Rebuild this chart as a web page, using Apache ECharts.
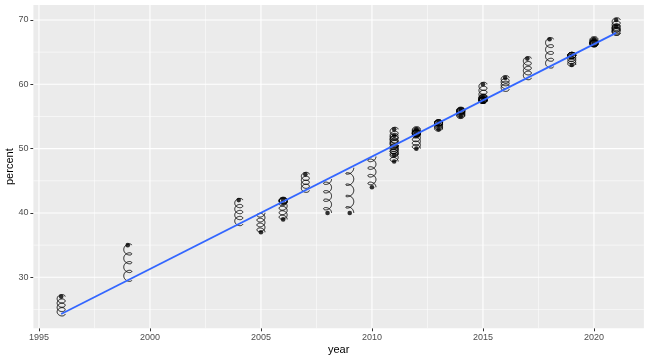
<!DOCTYPE html>
<html>
<head>
<meta charset="utf-8">
<script src="https://cdn.jsdelivr.net/npm/echarts@6/dist/echarts.min.js"></script>
<style>html,body{margin:0;padding:0;background:#fff}#c{width:648px;height:360px}</style>
</head>
<body>
<div id="c"></div>
<script>
// ---- data ----
const years = [1996, 1999, 2004, 2005, 2006, 2006, 2007, 2008, 2009, 2010,
  2011, 2011, 2011, 2011, 2012, 2012, 2012, 2013, 2013, 2014, 2014,
  2015, 2015, 2015, 2016, 2017, 2018, 2019, 2019, 2020, 2020, 2021, 2021];
const percents = [27, 35, 42, 37, 42, 39, 46, 40, 40, 44,
  53, 52, 49, 48, 53, 52.5, 50, 54, 53, 56, 55,
  60, 58, 57.5, 61, 64, 67, 64.5, 63, 67, 66.5, 70, 69];
// fitted (lm) line
const fitYears = [1996, 2021];
const fitValues = [24.3, 68.0];
// axis breaks
const xBreaks = [1995, 2000, 2005, 2010, 2015, 2020];
const xMinorBreaks = [1997.5, 2002.5, 2007.5, 2012.5, 2017.5];
const yBreaks = [30, 40, 50, 60, 70];
const yMinorBreaks = [25, 35, 45, 55, 65];

const X_MIN = 1994.75, X_MAX = 2022.25, Y_MIN = 22.07, Y_MAX = 72.33;

function fitAt(x) {
  const t = (x - fitYears[0]) / (fitYears[1] - fitYears[0]);
  return fitValues[0] + t * (fitValues[1] - fitValues[0]);
}

const pointData = years.map((y, i) => [y, percents[i]]);
const gridData = []
  .concat(xBreaks.map(v => ['x', v, 1]))
  .concat(xMinorBreaks.map(v => ['x', v, 0]))
  .concat(yBreaks.map(v => ['y', v, 1]))
  .concat(yMinorBreaks.map(v => ['y', v, 0]));

const chart = echarts.init(document.getElementById('c'), null, {renderer: 'canvas'});
const FONT = '"Liberation Sans", Arial, Helvetica, sans-serif';

chart.setOption({
  animation: false,
  backgroundColor: '#ffffff',
  grid: {left: 33.4, right: 4.1, top: 5, bottom: 31.7, show: true, backgroundColor: '#EBEBEB', borderWidth: 0,
    containLabel: false, outerBoundsMode: 'none'},
  xAxis: {
    type: 'value', min: X_MIN, max: X_MAX,
    name: 'year', nameLocation: 'middle', nameGap: 16, nameMoveOverlap: false,
    nameTextStyle: {color: '#000', fontSize: 11, fontFamily: FONT},
    axisLine: {show: false},
    axisTick: {show: true, length: 3, lineStyle: {color: '#333333', width: 1}, customValues: xBreaks},
    axisLabel: {color: '#4D4D4D', fontSize: 9, fontFamily: FONT, margin: 5, customValues: xBreaks, formatter: v => String(v)},
    splitLine: {show: false}
  },
  yAxis: {
    type: 'value', min: Y_MIN, max: Y_MAX,
    name: 'percent', nameLocation: 'middle', nameGap: 18, nameRotate: 90, nameMoveOverlap: false,
    nameTextStyle: {color: '#000', fontSize: 11, fontFamily: FONT},
    axisLine: {show: false},
    axisTick: {show: true, length: 3, lineStyle: {color: '#333333', width: 1}, customValues: yBreaks},
    axisLabel: {color: '#4D4D4D', fontSize: 9, fontFamily: FONT, margin: 5, customValues: yBreaks, formatter: v => String(v)},
    splitLine: {show: false}
  },
  series: [
    {
      type: 'custom', z: 1, silent: true,
      data: gridData,
      encode: {x: 1},
      renderItem(params, api) {
        const axis = gridData[params.dataIndex][0];
        const v = api.value(1);
        const major = api.value(2) === 1;
        let p0, p1;
        if (axis === 'x') { p0 = api.coord([v, Y_MIN]); p1 = api.coord([v, Y_MAX]); }
        else { p0 = api.coord([X_MIN, v]); p1 = api.coord([X_MAX, v]); }
        return {type: 'line', shape: {x1: p0[0], y1: p0[1], x2: p1[0], y2: p1[1]},
          style: {stroke: '#FFFFFF', lineWidth: major ? 1.1 : 0.55}};
      }
    },
    {
      type: 'custom', z: 3, silent: true,
      data: pointData,
      renderItem(params, api) {
        const yr = api.value(0), v = api.value(1);
        const p0 = api.coord([yr, v]);
        const p1 = api.coord([yr, fitAt(yr)]);
        const nRev = 4, rx = 4, ry = 3, M = 240;
        const pts = [];
        for (let k = 0; k <= M; k++) {
          const t = k / M;
          const th = 2 * Math.PI * nRev * t;
          pts.push([p0[0] + rx * Math.cos(th), p0[1] + (p1[1] - p0[1]) * t - ry * Math.sin(th)]);
        }
        return {type: 'polyline', shape: {points: pts}, style: {stroke: '#000000', lineWidth: 0.9, fill: null}};
      }
    },
    {
      type: 'scatter', z: 4, silent: true,
      data: pointData, symbol: 'circle', symbolSize: 4.6,
      itemStyle: {color: '#000000'}
    },
    {
      type: 'line', z: 5, silent: true,
      data: fitYears.map((y, i) => [y, fitValues[i]]),
      showSymbol: false, symbol: 'none',
      lineStyle: {color: '#3366FF', width: 1.8}
    }
  ]
});
</script>
</body>
</html>
